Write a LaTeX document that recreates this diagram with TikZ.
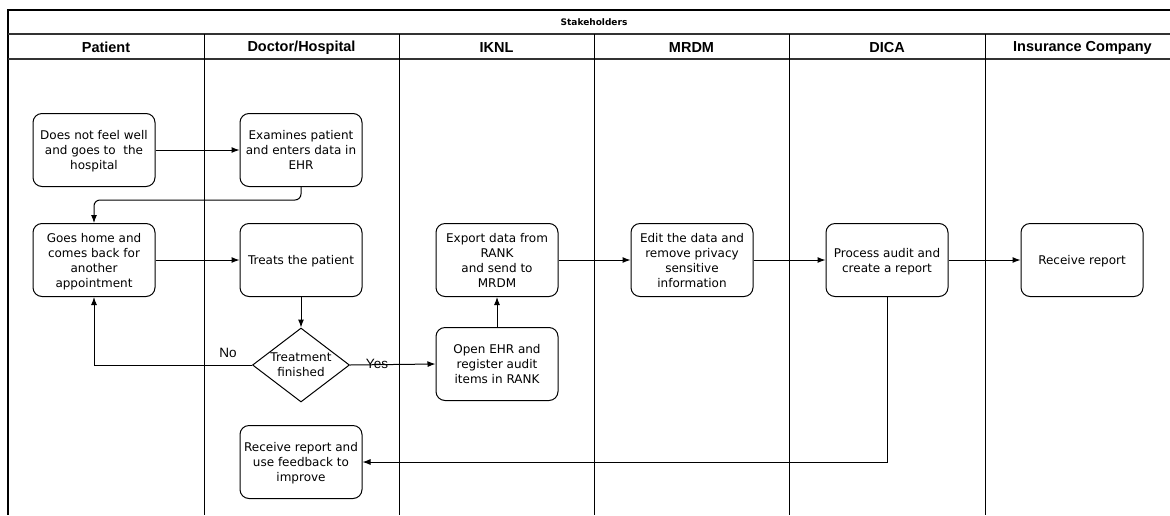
\documentclass[tikz,border=0pt]{standalone}
\usepackage{fontspec}
\setmainfont{DejaVu Sans}
\newfontfamily\hdfont{Liberation Sans}
\usetikzlibrary{arrows.meta,shapes.geometric}
\begin{document}
\begin{tikzpicture}[x=1pt,y=-1pt,
  box/.style={draw, line width=1pt, rounded corners=9pt, minimum width=122pt, minimum height=73pt,
    align=center, inner sep=0pt, text depth=-1.5pt, font=\fontsize{12}{15}\selectfont},
  decision/.style={draw, line width=1pt, diamond, minimum width=97pt, minimum height=74pt,
    align=center, inner sep=-3pt, aspect=1.3, text depth=-1.5pt, font=\fontsize{12}{15}\selectfont},
  lanehd/.style={font=\hdfont\bfseries\fontsize{14.5}{16}\selectfont},
  title/.style={font=\bfseries\fontsize{9}{11}\selectfont},
  lbl/.style={font=\hdfont\fontsize{13.5}{15}\selectfont, inner sep=0pt},
  arr/.style={-{Latex[length=8pt,width=6pt]}, line width=1pt},
  lane/.style={line width=1pt},
  frameline/.style={line width=1.7pt},
  hdline/.style={line width=1.3pt, black!80}]
\clip (0,0) rectangle (1170,515);
% frame and lanes
\draw[frameline] (1180,515) -- (1180,10) -- (8,10) -- (8,515);
\draw[hdline] (8,34) -- (1180,34);
\draw[hdline] (8,59) -- (1180,59);
\foreach \x in {204,399,594,789,985} \draw[lane] (\x,34) -- (\x,515);
\node[title] (stake) at (594,22.5) {Stakeholders};
\node[lanehd] (hpat) at (106,47.5) {Patient};
\node[lanehd] (hdoc) at (301.5,47.5) {Doctor/Hospital};
\node[lanehd] (hikn) at (496.5,47.5) {IKNL};
\node[lanehd] (hmrd) at (691.5,47.5) {MRDM};
\node[lanehd] (hdic) at (887,47.5) {DICA};
\node[lanehd] (hins) at (1082.5,47.5) {Insurance Company};
% nodes
\node[box] (p1) at (94,150) {Does not feel well\\and goes to\ \ the\\hospital};
\node[box] (d1) at (301,150) {Examines patient\\and enters data in\\EHR};
\node[box] (p2) at (94,260) {Goes home and\\comes back for\\another\\appointment};
\node[box] (d2) at (301,260) {Treats the patient};
\node[decision] (dec) at (301,365) {Treatment\\finished};
\node[box] (i2) at (497,364) {Open EHR and\\register audit\\items in RANK};
\node[box] (i1) at (497,260) {Export data from\\RANK\\and send to\\MRDM};
\node[box] (m1) at (692,260) {Edit the data and\\remove privacy\\sensitive\\information};
\node[box] (dc1) at (887,260) {Process audit and\\create a report};
\node[box] (ic1) at (1082,260) {Receive report};
\node[box] (d3) at (301,462) {Receive report and\\use feedback to\\improve};
% connectors
\draw[arr] (p1) -- (d1);
\draw[arr, rounded corners=6pt] (d1.south) -- ++(0,13) -| (p2.north);
\draw[arr] (p2) -- (d2);
\draw[arr] (d2) -- (dec);
\draw[arr] (dec.west) -| (p2.south);
\draw[arr] (dec.east) -- (i2.west);
\draw[arr] (i2) -- (i1);
\draw[arr] (i1) -- (m1);
\draw[arr] (m1) -- (dc1);
\draw[arr] (dc1) -- (ic1);
\draw[arr] (dc1.south) |- (d3.east);
\node[lbl] (no) at (228,353) {No};
\node[lbl] (yes) at (377,364) {Yes};
\end{tikzpicture}
\end{document}
